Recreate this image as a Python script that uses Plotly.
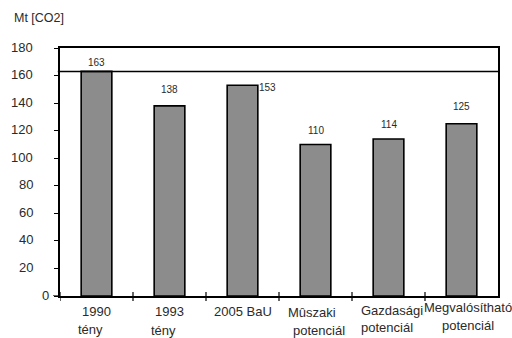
import plotly.graph_objects as go

# CO2 emissions by scenario (Mt)
label_top = ["1990", "1993", "2005 BaU", "Mûszaki", "Gazdasági", "Megvalósítható"]
label_bottom = ["tény", "tény", "", "potenciál", "potenciál", "potenciál"]
values = [163, 138, 153, 110, 114, 125]
y_ticks = [0, 20, 40, 60, 80, 100, 120, 140, 160, 180]
baseline_1990 = 163

# label offsets (pixels) for the value labels
val_dx = [0, 0, 25, 0, 0, 0]
val_dy = [9, 16, -2, 14, 14, 17]
# category label offsets (pixels)
top_dy = [-15, -15, -15, -16, -14, -11]
bot_dy = [-33, -34, 0, -34, -31, -29]
top_dx = [0, 0, 0, -4, 3, 6]
bot_dx = [-6, -6, 0, 3, -2, 6]
# y tick label offsets (pixels from the axis)
ytick_dx = [-9, -25, -25, -25, -25, -25, -25, -25, -25, -25]

font = "Liberation Sans, Arial, sans-serif"
txt = "#2a2a2a"
xs = list(range(len(values)))

fig = go.Figure()
fig.add_trace(go.Bar(
    x=xs, y=values, width=0.42,
    marker=dict(color="#8c8c8c", line=dict(color="#000000", width=1.6)),
    hoverinfo="skip",
))

annotations = []
for i, v in enumerate(values):
    annotations.append(dict(
        x=i, y=v, xref="x", yref="y", text=str(v), showarrow=False,
        xshift=val_dx[i], yshift=val_dy[i], yanchor="middle",
        font=dict(family=font, size=10, color=txt),
    ))
    annotations.append(dict(
        x=i, y=0, xref="x", yref="paper", text=label_top[i], showarrow=False,
        xshift=top_dx[i], yshift=top_dy[i], yanchor="middle",
        font=dict(family=font, size=13, color=txt),
    ))
    if label_bottom[i]:
        annotations.append(dict(
            x=i, y=0, xref="x", yref="paper", text=label_bottom[i], showarrow=False,
            xshift=bot_dx[i], yshift=bot_dy[i], yanchor="middle",
            font=dict(family=font, size=13, color=txt),
        ))
for t, dx in zip(y_ticks, ytick_dx):
    annotations.append(dict(
        x=0, y=t, xref="paper", yref="y", text=str(t), showarrow=False,
        xanchor="right", yanchor="middle", xshift=dx, yshift=1,
        font=dict(family=font, size=13, color=txt),
    ))
annotations.append(dict(
    x=0, y=1, xref="paper", yref="paper", text="Mt [CO2]", showarrow=False,
    xanchor="left", yanchor="middle", xshift=-48, yshift=30,
    font=dict(family=font, size=12.5, color=txt),
))

shapes = [dict(type="line", xref="paper", yref="y", x0=-0.005, x1=1,
               y0=baseline_1990, y1=baseline_1990,
               line=dict(color="#000", width=1.5))]
# category separator ticks crossing the x axis
for i in xs:
    shapes.append(dict(type="line", xref="x", yref="paper", ysizemode="pixel",
                       yanchor=0, x0=i - 0.5, x1=i - 0.5, y0=-5, y1=4,
                       line=dict(color="#000", width=1.2)))
# longer tick at zero on the y axis
shapes.append(dict(type="line", xref="paper", yref="y", xsizemode="pixel",
                   xanchor=0, x0=-7, x1=0, y0=0, y1=0,
                   line=dict(color="#000", width=1.2)))

fig.update_layout(
    width=512, height=338,
    margin=dict(l=60, r=14, t=48, b=42),
    paper_bgcolor="white", plot_bgcolor="white",
    showlegend=False,
    annotations=annotations,
    shapes=shapes,
    xaxis=dict(
        range=[-0.5, len(values) - 0.5],
        showticklabels=False, ticks="",
        showline=True, linecolor="#000", linewidth=2, mirror=True,
        showgrid=False, zeroline=False, fixedrange=True,
    ),
    yaxis=dict(
        range=[0, 180],
        tickmode="array", tickvals=y_ticks,
        showticklabels=False,
        ticks="outside", ticklen=4, tickwidth=1.2, tickcolor="#000",
        showline=True, linecolor="#000", linewidth=1.5, mirror=True,
        showgrid=False, zeroline=False,
    ),
)

fig.write_html("out.html")
